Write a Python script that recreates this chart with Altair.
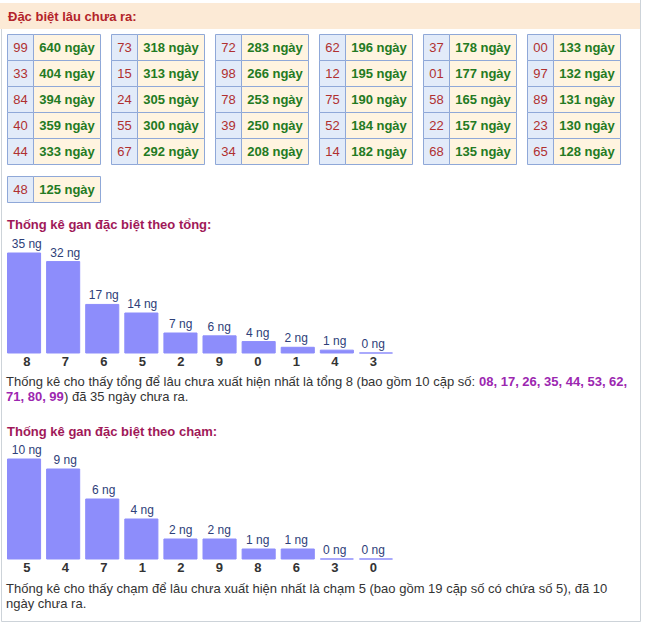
import altair as alt
import pandas as pd

# ---------------- data ----------------
pair_numbers = ["99", "33", "84", "40", "44",
                "73", "15", "24", "55", "67",
                "72", "98", "78", "39", "34",
                "62", "12", "75", "52", "14",
                "37", "01", "58", "22", "68",
                "00", "97", "89", "23", "65",
                "48"]
pair_days = [640, 404, 394, 359, 333,
             318, 313, 305, 300, 292,
             283, 266, 253, 250, 208,
             196, 195, 190, 184, 182,
             178, 177, 165, 157, 135,
             133, 132, 131, 130, 128,
             125]

tong_digits = ["8", "7", "6", "5", "2", "9", "0", "1", "4", "3"]
tong_days = [35, 32, 17, 14, 7, 6, 4, 2, 1, 0]
cham_digits = ["5", "4", "7", "1", "2", "9", "8", "6", "3", "0"]
cham_days = [10, 9, 6, 4, 2, 2, 1, 1, 0, 0]

header_title = "Đặc biệt lâu chưa ra:"
tong_title = "Thống kê gan đặc biệt theo tổng:"
tong_note_1 = "Thống kê cho thấy tổng để lâu chưa xuất hiện nhất là tổng 8 (bao gồm 10 cặp số: "
tong_pairs_1 = "08, 17, 26, 35, 44, 53, 62,"
tong_pairs_2 = "71, 80, 99"
tong_note_2 = ") đã 35 ngày chưa ra."
cham_title = "Thống kê gan đặc biệt theo chạm:"
cham_note_1 = "Thống kê cho thấy chạm để lâu chưa xuất hiện nhất là chạm 5 (bao gồm 19 cặp số có chứa số 5), đã 10"
cham_note_2 = "ngày chưa ra."

# ---------------- styles ----------------
FONT = "Liberation Sans"
PEACH = "#fcead6"
CELL_BLUE = "#e2ebf9"
CELL_CREAM = "#fff4e0"
CELL_BORDER = "#8fa8d8"
NUM_RED = "#b03030"
DAY_GREEN = "#237a23"
TITLE_RED = "#b3242a"
TITLE_PURPLE = "#a01858"
BAR = "#8d8dfb"
BAR_LABEL = "#2e4079"
TEXT = "#333333"
PURPLE = "#9c27b0"
FRAME = "#cdd3d9"

layers = []


def label(text, x, y, color=TEXT, size=13, bold=False):
    return alt.Chart(pd.DataFrame({"t": [text]})).mark_text(
        align="left", baseline="middle", font=FONT, fontSize=size,
        fontWeight="bold" if bold else "normal", color=color
    ).encode(text="t:N", x=alt.value(x), y=alt.value(y))


def one_row(**kw):
    return pd.DataFrame({"k": [0]})


# frame and header band
layers.append(alt.Chart(one_row()).mark_rect(color=PEACH).encode(
    x=alt.value(0), x2=alt.value(640), y=alt.value(3), y2=alt.value(29)))
layers.append(alt.Chart(one_row()).mark_rule(color=FRAME, strokeWidth=1).encode(
    x=alt.value(1.5), y=alt.value(29), y2=alt.value(621.5)))
layers.append(alt.Chart(one_row()).mark_rule(color=FRAME, strokeWidth=1).encode(
    x=alt.value(640.5), y=alt.value(0), y2=alt.value(621.5)))
layers.append(alt.Chart(one_row()).mark_rule(color=FRAME, strokeWidth=1).encode(
    x=alt.value(1.5), x2=alt.value(640.5), y=alt.value(621.5)))
layers.append(label(header_title, 8, 17, TITLE_RED, 13, True))

# ---------------- table ----------------
pairs = pd.DataFrame({"num": pair_numbers, "days": pair_days})
pairs["idx"] = range(len(pairs))
pairs["lab"] = pairs["days"].astype(str) + " ngày"
pairs["col"] = pairs["idx"] // 5
pairs["row"] = pairs["idx"] % 5
main = pairs.iloc[:30]
extra = pairs.iloc[30:].assign(col=0, row=0)

x_tab = alt.Scale(domain=[0, 6], range=[7.5, 631.5])


def table_layers(df, y_scale):
    base = alt.Chart(df).encode(
        x=alt.X("col:Q", scale=x_tab, axis=None),
        y=alt.Y("row:Q", scale=y_scale, axis=None),
    )
    out = []
    out.append(base.mark_rect(fill=CELL_BLUE, stroke=CELL_BORDER, strokeWidth=1,
                              x2Offset=26, y2Offset=26).encode(x2="col:Q", y2="row:Q"))
    out.append(base.mark_rect(fill=CELL_CREAM, stroke=CELL_BORDER, strokeWidth=1,
                              xOffset=26, x2Offset=93, y2Offset=26).encode(x2="col:Q", y2="row:Q"))
    out.append(base.mark_text(font=FONT, fontSize=13, color=NUM_RED, align="center",
                              baseline="middle", dx=13, dy=13).encode(text="num:N"))
    out.append(base.mark_text(font=FONT, fontSize=13, fontWeight="bold", color=DAY_GREEN,
                              align="center", baseline="middle", dx=59.5, dy=13).encode(text="lab:N"))
    return out


layers += table_layers(main, alt.Scale(domain=[0, 5], range=[34.5, 164.5]))
layers += table_layers(extra, alt.Scale(domain=[0, 1], range=[176.5, 202.5]))


# ---------------- bar charts ----------------
def bar_layers(cats, vals, y_bottom, ymax):
    df = pd.DataFrame({"cat": cats, "val": vals})
    df["lab"] = df["val"].astype(str) + " ng"
    xs = alt.Scale(domain=cats, range=[7.5, 392.5], paddingInner=6 / 39, paddingOuter=0)
    ys = alt.Scale(domain=[0, ymax], range=[y_bottom, y_bottom - 100])
    base = alt.Chart(df).encode(x=alt.X("cat:N", scale=xs, axis=None, sort=cats))
    out = []
    out.append(base.mark_bar(color=BAR, stroke=BAR, strokeWidth=1).encode(
        y=alt.Y("val:Q", scale=ys, axis=None)))
    out.append(base.mark_text(font=FONT, fontSize=12, color=BAR_LABEL, baseline="bottom",
                              dy=-2).encode(y=alt.Y("val:Q", scale=ys, axis=None), text="lab:N"))
    out.append(base.transform_calculate(base="0").mark_text(
        font=FONT, fontSize=13, fontWeight="bold", color=TEXT, baseline="middle", dy=9
    ).encode(y=alt.Y("base:Q", scale=ys, axis=None), text="cat:N"))
    return out


layers.append(label(tong_title, 7, 225, TITLE_PURPLE, 13, True))
layers += bar_layers(tong_digits, tong_days, 353, 35)
layers.append(label(tong_note_1, 6, 382, TEXT))
layers.append(label(tong_pairs_1, 479, 382, PURPLE, 13, True))
layers.append(label(tong_pairs_2, 6, 397, PURPLE, 13, True))
layers.append(label(tong_note_2, 64, 397, TEXT))

layers.append(label(cham_title, 7, 432, TITLE_PURPLE, 13, True))
layers += bar_layers(cham_digits, cham_days, 559, 10)
layers.append(label(cham_note_1, 6, 589, TEXT))
layers.append(label(cham_note_2, 6, 604, TEXT))

chart = alt.layer(*layers).resolve_scale(x="independent", y="independent").properties(
    width=645, height=626, autosize=alt.AutoSizeParams(type="none"), padding=0,
    background="white"
).configure_view(stroke=None)

chart.save("out.html", embed_options={"renderer": "svg", "actions": False})
